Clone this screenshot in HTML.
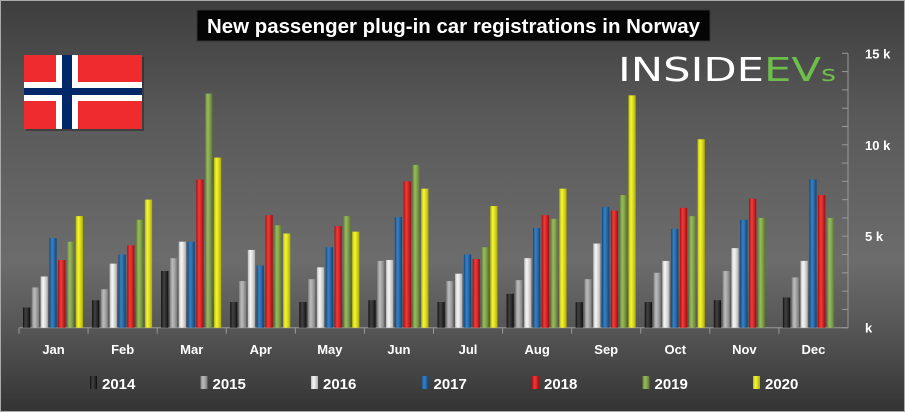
<!DOCTYPE html>
<html><head><meta charset="utf-8"><style>
body{margin:0;width:905px;height:412px;overflow:hidden;font-family:"Liberation Sans",sans-serif}
#wrap{position:absolute;left:0;top:0;width:903px;height:410px;border:1px solid #aaa;background:linear-gradient(#3e3e3e 0px,#5a5a5a 120px,#6c6c6c 260px,#555 330px,#333 412px)}
</style></head><body>
<div id="wrap">
<svg id="chart" width="905" height="412" style="position:absolute;left:0;top:0">
<defs>
<linearGradient id="shine" x1="0" x2="1"><stop offset="0" stop-color="#000" stop-opacity="0.25"/><stop offset="0.35" stop-color="#fff" stop-opacity="0.2"/><stop offset="1" stop-color="#000" stop-opacity="0.3"/></linearGradient>
</defs>
<g>
<rect x="25" y="56" width="118" height="74" fill="#000" opacity="0.3"/>
<rect x="23" y="54" width="118" height="74" fill="#ef2b2d"/>
<rect x="55" y="54" width="22" height="74" fill="#fff"/>
<rect x="23" y="81" width="118" height="19" fill="#fff"/>
<rect x="61" y="54" width="10" height="74" fill="#002868"/>
<rect x="23" y="87" width="118" height="7" fill="#002868"/>
</g>
<g>
<rect x="196" y="9" width="513" height="31" fill="#050505" stroke="#333"/>
<text x="206" y="32" textLength="493" lengthAdjust="spacingAndGlyphs" fill="#fff" font-size="20" font-weight="bold">New passenger plug-in car registrations in Norway</text>
</g>
<text x="617" y="80" textLength="218" lengthAdjust="spacingAndGlyphs" fill="#fff" font-size="33" style="font-family:'DejaVu Sans',sans-serif">INSIDE<tspan fill="#6cbf4a">EV</tspan><tspan fill="#6cbf4a" font-size="22">s</tspan></text>
<g id="axes"></g>
<g id="bars"></g>
<g id="legend"></g>
</svg>
</div>
<script>
const months=["Jan","Feb","Mar","Apr","May","Jun","Jul","Aug","Sep","Oct","Nov","Dec"];
const years=["2014","2015","2016","2017","2018","2019","2020"];
const colors=["#111","#aaa","#f4f4f4","#0a5fb0","#e80a0a","#7fa838","#f2f200"];
const s2014=[1.1,1.5,3.1,1.4,1.4,1.5,1.4,1.85,1.4,1.4,1.5,1.65];
const s2015=[2.2,2.1,3.8,2.55,2.65,3.65,2.55,2.6,2.65,3.0,3.1,2.75];
const s2016=[2.8,3.5,4.7,4.25,3.3,3.7,2.95,3.8,4.6,3.65,4.35,3.65];
const s2017=[4.9,4.0,4.7,3.4,4.4,6.05,4.0,5.45,6.6,5.4,5.9,8.1];
const s2018=[3.7,4.5,8.1,6.15,5.55,8.0,3.75,6.15,6.4,6.55,7.05,7.25];
const s2019=[4.7,5.9,12.8,5.6,6.1,8.9,4.4,5.95,7.25,6.1,6.0,6.0];
const s2020=[6.1,7.0,9.3,5.15,5.25,7.6,6.65,7.6,12.7,10.3,null,null];
const series=[s2014,s2015,s2016,s2017,s2018,s2019,s2020];
const yTicks=[0,5,10,15];
const yTickLabels=["k","5 k","10 k","15 k"];
const NS="http://www.w3.org/2000/svg";
const x0=18,x1=847,y0=326.7,yTop=52.3,yMax=15;
const gw=(x1-x0)/months.length;
function yS(v){return y0-(v/yMax)*(y0-yTop);}
function xG(i){return x0+i*gw;}
function mk(tag,attrs,parent){const e=document.createElementNS(NS,tag);for(const k in attrs)e.setAttribute(k,attrs[k]);parent.appendChild(e);return e;}
const axes=document.getElementById('axes'),bars=document.getElementById('bars'),legend=document.getElementById('legend');
let l=mk('line',{x1:x0,x2:x1,y1:y0,y2:y0,stroke:'#999'},axes);


l=mk('line',{x1:x1,x2:x1,y1:yTop,y2:y0,stroke:'#999'},axes);


for(let v=0;v<=15;v++){mk('line',{x1:x1-6,x2:x1,y1:yS(v),y2:yS(v),stroke:'#999'},axes);}
yTicks.forEach((v,i)=>{const t=mk('text',{x:x1+17,y:yS(v)+5,fill:'#fff','font-size':13,'font-weight':'bold'},axes);t.textContent=yTickLabels[i];

});
months.forEach((m,i)=>{mk('line',{x1:xG(i),x2:xG(i),y1:y0,y2:y0+6,stroke:'#999'},axes);
const t=mk('text',{x:xG(i)+gw/2,y:353,fill:'#fff','font-size':13,'font-weight':'bold','text-anchor':'middle'},axes);t.textContent=m;

});
const pitch=8.8,bw=7.2;
series.forEach((s,k)=>{s.forEach((v,i)=>{if(v==null)return;const x=xG(i)+4+k*pitch,y=yS(v);
const g=mk('g',{},bars);


mk('rect',{x:x,y:y,width:bw,height:y0-y,fill:colors[k]},g);
mk('rect',{x:x,y:y,width:bw,height:y0-y,fill:'url(#shine)'},g);});});
years.forEach((yr,k)=>{const x=89+k*110.5;const g=mk('g',{},legend);


mk('rect',{x:x,y:375,width:7,height:13,fill:colors[k]},g);
mk('rect',{x:x,y:375,width:7,height:13,fill:'url(#shine)'},g);
const t=mk('text',{x:x+12,y:388,fill:'#fff','font-size':15,'font-weight':'bold'},g);t.textContent=yr;});
</script>
</body></html>
